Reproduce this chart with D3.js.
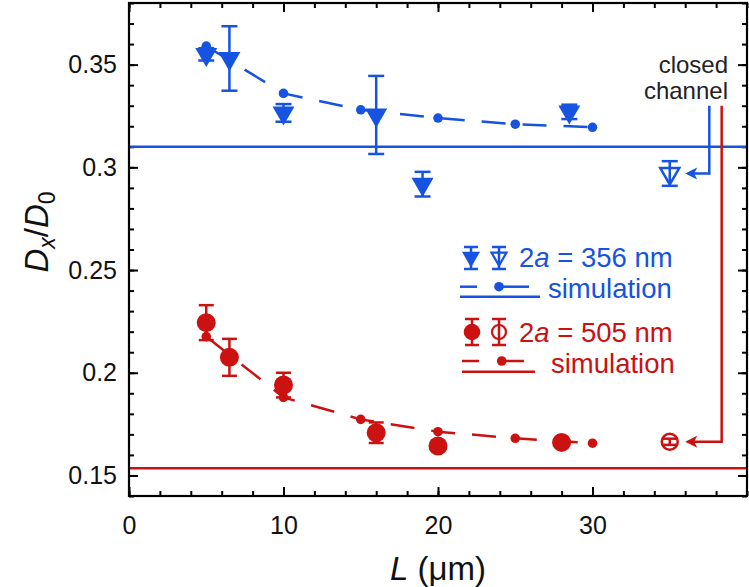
<!DOCTYPE html>
<html><head><meta charset="utf-8">
<script src="https://cdn.jsdelivr.net/npm/d3@7"></script>
<style>body{margin:0;background:#fff} svg{display:block}</style>
</head><body><svg id="c" width="749" height="587"></svg>
<script>
// ---------- data ----------
const blueL   = [5, 6.5, 10, 16, 19, 28.5];
const blueD   = [0.355, 0.353, 0.3265, 0.3255, 0.2918, 0.327];
const blueErr = [0.003, 0.0157, 0.0043, 0.019, 0.006, 0.0035];
const blueOpenL = [35];
const blueOpenD = [0.297];
const blueOpenErr = [0.006];
const blueSimL = [5, 10, 15, 20, 25, 30];
const blueSimD = [0.359, 0.336, 0.328, 0.324, 0.321, 0.3195];
const blueClosed = 0.31;

const redL   = [5, 6.5, 10, 16, 20, 28];
const redD   = [0.2244, 0.2075, 0.194, 0.1708, 0.1643, 0.1661];
const redErr = [0.0085, 0.009, 0.006, 0.005, 0.002, 0.002];
const redOpenL = [35];
const redOpenD = [0.1664];
const redOpenErr = [0.0015];
const redSimL = [5, 10, 15, 20, 25, 30];
const redSimD = [0.2176, 0.188, 0.1773, 0.1713, 0.1681, 0.1657];
const redClosed = 0.1535;

const xTicks = [0, 10, 20, 30];
const xTickLabels = ["0", "10", "20", "30"];
const yTicks = [0.15, 0.2, 0.25, 0.3, 0.35];
const yTickLabels = ["0.15", "0.2", "0.25", "0.3", "0.35"];

// annotation (data units)
const arrowTopY = 0.33;
const arrowTipL = 36;
const blueArrowL = 37.56;
const redArrowL = 38.36;

// ---------- style ----------
const BLUE = "#1553e0", RED = "#cc1111";
const FONT = "'Liberation Sans', Arial, Helvetica, sans-serif";

const svg = d3.select("#c");
const M = {l:129, r:747, t:3, b:496};
const x = d3.scaleLinear().domain([0, 40]).range([M.l, M.r]);
const y = d3.scaleLinear().domain([0.14, 0.38]).range([M.b, M.t]);

// axes
function styleAxis(g){ g.select(".domain").remove(); g.selectAll(".tick line").attr("stroke","#000").attr("stroke-width",2); }
const xMinor = d3.range(0, 40.01, 2), yMinor = d3.range(0.14, 0.3801, 0.01).map(v=>+v.toFixed(2));
svg.append("g").attr("transform",`translate(0,${M.b})`).call(d3.axisBottom(x).tickValues(xMinor).tickSize(-5).tickFormat("")).call(styleAxis);
svg.append("g").attr("transform",`translate(0,${M.t})`).call(d3.axisTop(x).tickValues(xMinor).tickSize(-5).tickFormat("")).call(styleAxis);
svg.append("g").attr("transform",`translate(${M.l},0)`).call(d3.axisLeft(y).tickValues(yMinor).tickSize(-5).tickFormat("")).call(styleAxis);
svg.append("g").attr("transform",`translate(${M.r},0)`).call(d3.axisRight(y).tickValues(yMinor).tickSize(-5).tickFormat("")).call(styleAxis);

svg.append("g").attr("transform",`translate(0,${M.b})`)
  .call(d3.axisBottom(x).tickValues(xTicks).tickSize(-9).tickPadding(20).tickFormat((d,i)=>xTickLabels[i])).call(styleAxis);
svg.append("g").attr("transform",`translate(0,${M.t})`).call(d3.axisTop(x).tickValues(xTicks).tickSize(-9).tickFormat("")).call(styleAxis);
svg.append("g").attr("transform",`translate(${M.l},0)`)
  .call(d3.axisLeft(y).tickValues(yTicks).tickSize(-9).tickPadding(12).tickFormat((d,i)=>yTickLabels[i])).call(styleAxis);
svg.append("g").attr("transform",`translate(${M.r},0)`).call(d3.axisRight(y).tickValues(yTicks).tickSize(-9).tickFormat("")).call(styleAxis);
svg.selectAll(".tick text").attr("font-family",FONT).attr("font-size",25).attr("fill","#111");

// clip
svg.append("clipPath").attr("id","clip").append("rect").attr("x",M.l).attr("y",M.t).attr("width",M.r-M.l).attr("height",M.b-M.t);
const plot = svg.append("g").attr("clip-path","url(#clip)");

// closed channel lines
plot.append("line").attr("x1",M.l).attr("x2",M.r).attr("y1",y(blueClosed)).attr("y2",y(blueClosed)).attr("stroke",BLUE).attr("stroke-width",2.5);
plot.append("line").attr("x1",M.l).attr("x2",M.r).attr("y1",y(redClosed)).attr("y2",y(redClosed)).attr("stroke",RED).attr("stroke-width",2.5);

// simulation curves
function sim(L, D, col){
  const pts = L.map((l,i)=>[x(l), y(D[i])]);
  plot.append("path").attr("d", d3.line()(pts)).attr("fill","none").attr("stroke",col).attr("stroke-width",2.5).attr("stroke-dasharray","24,17").attr("stroke-dashoffset",-4);
  plot.selectAll(null).data(pts).join("circle").attr("cx",d=>d[0]).attr("cy",d=>d[1]).attr("r",4.8).attr("fill",col);
}
sim(blueSimL, blueSimD, BLUE);
sim(redSimL, redSimD, RED);

// error bars
function errbars(L, D, E, col, cap){
  L.forEach((l,i)=>{
    const cx = x(l), y1 = y(D[i]+E[i]), y2 = y(D[i]-E[i]);
    plot.append("line").attr("x1",cx).attr("x2",cx).attr("y1",y1).attr("y2",y2).attr("stroke",col).attr("stroke-width",2.5);
    [y1,y2].forEach(yy=>plot.append("line").attr("x1",cx-cap/2).attr("x2",cx+cap/2).attr("y1",yy).attr("y2",yy).attr("stroke",col).attr("stroke-width",2.5));
  });
}
function triPath(w){ const h = w*Math.sqrt(3)/2; return `M${-w/2},${-h/3}L${w/2},${-h/3}L0,${2*h/3}Z`; }

errbars(blueL, blueD, blueErr, BLUE, 16);
plot.selectAll(null).data(blueL).join("path").attr("d", triPath(22))
  .attr("transform",(d,i)=>`translate(${x(d)},${y(blueD[i])})`).attr("fill",BLUE);
errbars(blueOpenL, blueOpenD, blueOpenErr, BLUE, 16);
plot.selectAll(null).data(blueOpenL).join("path").attr("d", triPath(19))
  .attr("transform",(d,i)=>`translate(${x(d)},${y(blueOpenD[i])})`).attr("fill","none").attr("stroke",BLUE).attr("stroke-width",2.5);

errbars(redL, redD, redErr, RED, 15);
plot.selectAll(null).data(redL).join("circle").attr("cx",d=>x(d)).attr("cy",(d,i)=>y(redD[i])).attr("r",9.5).attr("fill",RED);
errbars(redOpenL, redOpenD, redOpenErr, RED, 14);
plot.selectAll(null).data(redOpenL).join("circle").attr("cx",d=>x(d)).attr("cy",(d,i)=>y(redOpenD[i])).attr("r",8).attr("fill","none").attr("stroke",RED).attr("stroke-width",2.5);

// frame
svg.append("rect").attr("x",M.l).attr("y",M.t).attr("width",M.r-M.l).attr("height",M.b-M.t).attr("fill","none").attr("stroke","#000").attr("stroke-width",2.2);

// annotation arrows
function arrow(xL, yTo, col){
  const X = x(xL), Y0 = y(arrowTopY), Y1 = y(yTo), T = x(arrowTipL);
  svg.append("path").attr("d",`M${X},${Y0}V${Y1}H${T+8}`).attr("fill","none").attr("stroke",col).attr("stroke-width",2.5);
  svg.append("path").attr("d",`M${T},${Y1}L${T+12},${Y1-6}L${T+9},${Y1}L${T+12},${Y1+6}Z`).attr("fill",col);
}
arrow(blueArrowL, blueOpenD[0], BLUE);
arrow(redArrowL, redOpenD[0], RED);
svg.append("text").attr("x",728).attr("y",73).attr("font-family",FONT).attr("font-size",24).attr("fill","#222").attr("text-anchor","end").text("closed");
svg.append("text").attr("x",728).attr("y",99).attr("font-family",FONT).attr("font-size",24).attr("fill","#222").attr("text-anchor","end").text("channel");

// legend
const lg = svg.append("g");
function legTri(cx, cy, filled, col){
  lg.append("line").attr("x1",cx).attr("x2",cx).attr("y1",cy-11).attr("y2",cy+11).attr("stroke",col).attr("stroke-width",2.5);
  [cy-11, cy+11].forEach(yy=>lg.append("line").attr("x1",cx-7).attr("x2",cx+7).attr("y1",yy).attr("y2",yy).attr("stroke",col).attr("stroke-width",2.5));
  lg.append("path").attr("d",triPath(filled?18:15)).attr("transform",`translate(${cx},${cy-1})`)
    .attr("fill",filled?col:"none").attr("stroke",col).attr("stroke-width",filled?0:2.2);
}
function legCirc(cx, cy, filled, col){
  lg.append("line").attr("x1",cx).attr("x2",cx).attr("y1",cy-13).attr("y2",cy+13).attr("stroke",col).attr("stroke-width",2.5);
  [cy-13, cy+13].forEach(yy=>lg.append("line").attr("x1",cx-7).attr("x2",cx+7).attr("y1",yy).attr("y2",yy).attr("stroke",col).attr("stroke-width",2.5));
  lg.append("circle").attr("cx",cx).attr("cy",cy).attr("r",filled?8.3:7).attr("fill",filled?col:"none").attr("stroke",col).attr("stroke-width",filled?0:2.2);
}
function legSim(x0, x1, yU, yL, cx, col){
  lg.append("line").attr("x1",x0).attr("x2",x0+17).attr("y1",yU).attr("y2",yU).attr("stroke",col).attr("stroke-width",2.5);
  lg.append("line").attr("x1",cx).attr("x2",x1-11).attr("y1",yU).attr("y2",yU).attr("stroke",col).attr("stroke-width",2.5);
  lg.append("circle").attr("cx",cx).attr("cy",yU).attr("r",4.8).attr("fill",col);
  lg.append("line").attr("x1",x0).attr("x2",x1).attr("y1",yL).attr("y2",yL).attr("stroke",col).attr("stroke-width",2.5);
}
function legText(tx, ty, col, parts){
  const t = lg.append("text").attr("x",tx).attr("y",ty).attr("font-family",FONT).attr("font-size",27.5).attr("fill",col);
  parts.forEach(p=>t.append("tspan").attr("font-style",p[1]?"italic":"normal").text(p[0]));
}
legTri(471, 258, true, BLUE);
legTri(499, 258, false, BLUE);
legText(519, 267, BLUE, [["2",0],["a",1],[" = 356 nm",0]]);
legSim(460, 540, 286.7, 296.7, 499, BLUE);
legText(548, 298, BLUE, [["simulation",0]]);
legCirc(472, 332, true, RED);
legCirc(499, 332, false, RED);
legText(519, 342, RED, [["2",0],["a",1],[" = 505 nm",0]]);
legSim(462, 535, 361, 371.7, 501.7, RED);
legText(551, 373, RED, [["simulation",0]]);

// axis titles
const xt = svg.append("text").attr("x",(M.l+M.r)/2).attr("y",580).attr("text-anchor","middle").attr("font-family",FONT).attr("font-size",33).attr("fill","#111");
xt.append("tspan").attr("font-style","italic").text("L");
xt.append("tspan").text(" (μm)");
const yt = svg.append("text").attr("transform",`translate(48,232) rotate(-90)`).attr("text-anchor","middle").attr("font-family",FONT).attr("font-size",33).attr("fill","#111");
yt.append("tspan").attr("font-style","italic").text("D");
yt.append("tspan").attr("font-style","italic").attr("font-size",23).attr("dy",7).text("x");
yt.append("tspan").attr("dy",-7).text("/");
yt.append("tspan").attr("font-style","italic").text("D");
yt.append("tspan").attr("font-size",23).attr("dy",7).text("0");
</script></body></html>
